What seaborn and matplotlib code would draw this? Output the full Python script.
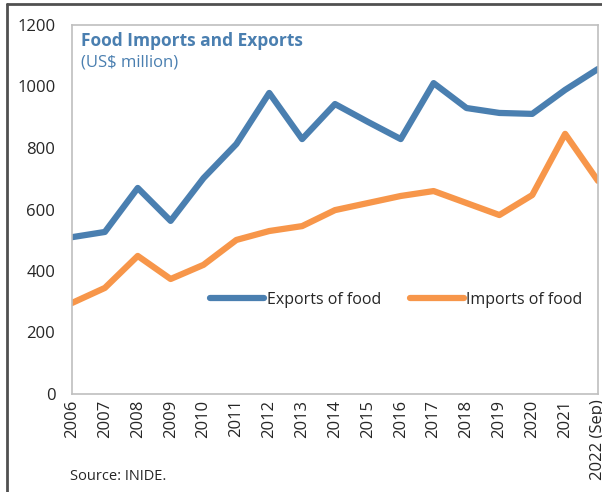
import matplotlib
matplotlib.use('Agg')

import pandas as pd
import matplotlib.pyplot as plt
import seaborn as sns
from matplotlib.lines import Line2D

# Values (US$ million)
years = ['2006', '2007', '2008', '2009', '2010', '2011', '2012', '2013', '2014',
         '2015', '2016', '2017', '2018', '2019', '2020', '2021', '2022 (Sep)']
exports = [510, 527, 670, 563, 702, 813, 979, 829, 943,
           885, 829, 1011, 930, 914, 911, 989, 1057]
imports = [296, 345, 449, 374, 420, 501, 530, 546, 598,
           621, 644, 660, 621, 582, 647, 846, 693]

blue = '#4a7fb0'
orange = '#f7964a'
frame = '#bfbfbf'

df = pd.DataFrame({
    'pos': list(range(len(years))) * 2,
    'value': exports + imports,
    'series': ['Exports of food'] * len(years) + ['Imports of food'] * len(years),
})

sns.set_style('white')
plt.rcParams['font.family'] = ['Open Sans', 'DejaVu Sans']

fig = plt.figure(figsize=(6.02, 4.92), dpi=100)
ax = fig.add_axes([72 / 602, 1 - 394 / 492, 526 / 602, 369 / 492])

sns.lineplot(data=df, x='pos', y='value', hue='series',
             palette=[blue, orange], linewidth=4.5, ax=ax, legend=False)

ax.set_xlim(0, len(years) - 1)
ax.set_ylim(0, 1200)
ax.set_xticks(range(len(years)))
ax.set_xticklabels(years, rotation=90, fontsize=12)
ax.set_yticks(range(0, 1201, 200))
ax.tick_params(axis='y', labelsize=12, direction='in', length=5, color=frame, pad=12)
ax.tick_params(axis='x', direction='in', length=5, color=frame, pad=4)
ax.set_xlabel('')
ax.set_ylabel('')
for s in ax.spines.values():
    s.set_color(frame)
    s.set_linewidth(1.2)

ax.text(0.018, 0.982, 'Food Imports and Exports', transform=ax.transAxes,
        fontsize=12.5, fontweight='bold', color=blue, va='top')
ax.text(0.018, 0.92, '(US$ million)', transform=ax.transAxes,
        fontsize=12, color=blue, va='top')

handles = [Line2D([], [], color=blue, lw=4.5, solid_capstyle='round'),
           Line2D([], [], color=orange, lw=4.5, solid_capstyle='round')]
ax.legend(handles, ['Exports of food', 'Imports of food'], ncol=2,
          loc='center left', bbox_to_anchor=(0.262, 0.255), frameon=False,
          borderpad=0, borderaxespad=0,
          fontsize=11.5, handlelength=3.4, handletextpad=0.15, columnspacing=1.8)

fig.text(70 / 602, 1 - 477 / 492, 'Source: INIDE.', fontsize=10.5, va='center')

# outer frame lines (top and left)
fig.add_artist(Line2D([7 / 602, 1], [1 - 4 / 492, 1 - 4 / 492], color='#505050', lw=2))
fig.add_artist(Line2D([7 / 602, 7 / 602], [0, 1 - 4 / 492], color='#505050', lw=2))

plt.savefig('out.png', dpi=100)
